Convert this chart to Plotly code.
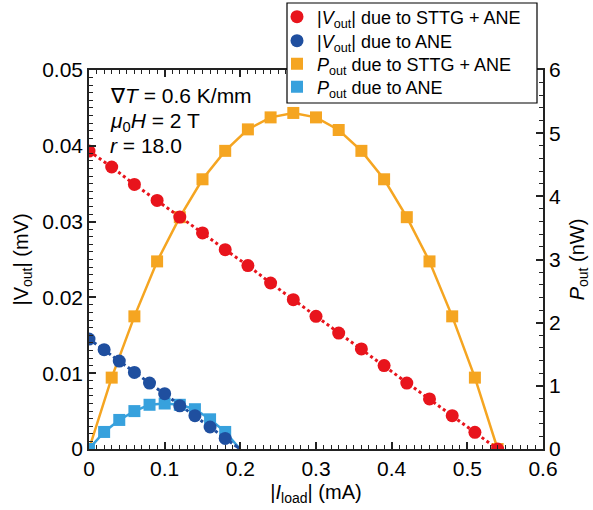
import numpy as np
import plotly.graph_objects as go

# Data
I_sttg = [0.00, 0.03, 0.06, 0.09, 0.12, 0.15, 0.18, 0.21, 0.24, 0.27,
          0.30, 0.33, 0.36, 0.39, 0.42, 0.45, 0.48, 0.51, 0.54]
V_sttg = [0.0393, 0.0372, 0.0349, 0.0328, 0.0306, 0.0285, 0.0263, 0.0242, 0.0219, 0.0197,
          0.0175, 0.0153, 0.0132, 0.0110, 0.0087, 0.0066, 0.0044, 0.0022, 0.0]
P_sttg = [0.0, 1.13, 2.10, 2.97, 3.67, 4.27, 4.72, 5.06, 5.25, 5.32,
          5.25, 5.05, 4.72, 4.27, 3.67, 2.97, 2.10, 1.13, 0.0]

I_ane = [0.00, 0.02, 0.04, 0.06, 0.08, 0.10, 0.12, 0.14, 0.16, 0.18]
V_ane = [0.0145, 0.0131, 0.0116, 0.0101, 0.0087, 0.0073, 0.0057, 0.0044, 0.0029, 0.0014]
P_ane = [0.0, 0.27, 0.46, 0.60, 0.70, 0.72, 0.70, 0.63, 0.47, 0.27]

x_ticks = [0, 0.1, 0.2, 0.3, 0.4, 0.5, 0.6]
x_ticklabels = ["0", "0.1", "0.2", "0.3", "0.4", "0.5", "0.6"]
v_ticks = [0, 0.01, 0.02, 0.03, 0.04, 0.05]
v_ticklabels = ["0", "0.01", "0.02", "0.03", "0.04", "0.05"]
p_ticks = [0, 1, 2, 3, 4, 5, 6]

RED = "#e8141c"
DBLUE = "#1f4f9f"
ORANGE = "#f5a521"
LBLUE = "#37a1dd"
FONT = "Arial, Liberation Sans, sans-serif"

# plot area geometry (pixels)
W, H = 593, 510
L, R, T, B = 89, 50, 70, 61
PH = H - T - B


def py(ypix):
    """pixel row -> paper y"""
    return (H - B - ypix) / PH


def px(xpix):
    return (xpix - L) / (W - L - R)


# linear fit for the ANE voltage (line extended to its zero crossing)
b_a, a_a = np.polyfit(I_ane, V_ane, 1)
x0_ane = -a_a / b_a

fig = go.Figure()

# P traces on primary y (drawn below), placed on the right
fig.add_trace(go.Scatter(
    x=I_sttg, y=P_sttg, mode="lines", yaxis="y",
    line=dict(color=ORANGE, width=2.5), showlegend=False, hoverinfo="skip"))
fig.add_trace(go.Scatter(
    x=I_ane + [x0_ane], y=P_ane + [0.0], mode="lines", yaxis="y",
    line=dict(color=LBLUE, width=2.5), showlegend=False, hoverinfo="skip"))
fig.add_trace(go.Scatter(
    x=I_sttg, y=P_sttg, mode="markers", yaxis="y",
    marker=dict(symbol="square", size=12, color=ORANGE),
    name="<i>P</i><sub>out</sub> due to STTG + ANE", legend="legend3"))
fig.add_trace(go.Scatter(
    x=I_ane, y=P_ane, mode="markers", yaxis="y",
    marker=dict(symbol="square", size=12, color=LBLUE),
    name="<i>P</i><sub>out</sub> due to ANE", legend="legend4"))

# V traces on y2 (drawn above), placed on the left
fig.add_trace(go.Scatter(
    x=I_sttg, y=V_sttg, mode="lines", yaxis="y2",
    line=dict(color=RED, width=3, dash="dot"), showlegend=False, hoverinfo="skip"))
fig.add_trace(go.Scatter(
    x=[0.0, x0_ane], y=[a_a, 0.0], mode="lines", yaxis="y2",
    line=dict(color=DBLUE, width=3, dash="dashdot"),
    showlegend=False, hoverinfo="skip"))
fig.add_trace(go.Scatter(
    x=I_sttg, y=V_sttg, mode="markers", yaxis="y2",
    marker=dict(symbol="circle", size=13, color=RED),
    name="|<i>V</i><sub>out</sub>| due to STTG + ANE", legend="legend"))
fig.add_trace(go.Scatter(
    x=I_ane, y=V_ane, mode="markers", yaxis="y2",
    marker=dict(symbol="circle", size=13, color=DBLUE),
    name="|<i>V</i><sub>out</sub>| due to ANE", legend="legend2"))

axis_common = dict(showgrid=False, zeroline=False, showline=True,
                   linecolor="#222", linewidth=1.5, ticks="inside",
                   tickcolor="#222", tickwidth=1.5, ticklen=7,
                   tickfont=dict(size=21, color="black", family=FONT))
minor_common = dict(ticks="inside", ticklen=4, tickcolor="#222", tickwidth=1)

legend_rows = [17, 41, 64, 87]
legend_x = px(277)


def legend_style(row):
    return dict(x=legend_x, y=py(row), xanchor="left", yanchor="middle",
                bgcolor="rgba(0,0,0,0)", borderwidth=0,
                font=dict(size=18, family=FONT, color="black"))


fig.update_layout(
    width=W, height=H,
    margin=dict(l=L, r=R, t=T, b=B, autoexpand=False),
    paper_bgcolor="white", plot_bgcolor="white",
    font=dict(family=FONT, color="black"),
    xaxis=dict(range=[0, 0.6], mirror="ticks",
               tickvals=x_ticks, ticktext=x_ticklabels,
               minor=dict(dtick=0.01, **minor_common),
               title=dict(text="|<i>I</i><sub>load</sub>| (mA)", font=dict(size=20), standoff=6),
               **axis_common),
    yaxis=dict(range=[0, 6], side="right", tickvals=p_ticks,
               minor=dict(dtick=0.2, **minor_common),
               title=dict(text="<i>P</i><sub>out</sub> (nW)", font=dict(size=20), standoff=10),
               **axis_common),
    yaxis2=dict(range=[0, 0.05], side="left", overlaying="y",
                tickvals=v_ticks, ticktext=v_ticklabels,
                minor=dict(dtick=0.001, **minor_common),
                title=dict(text="|V<sub>out</sub>| (mV)", font=dict(size=20), standoff=8),
                **axis_common),
    legend=legend_style(legend_rows[0]),
    legend2=legend_style(legend_rows[1]),
    legend3=legend_style(legend_rows[2]),
    legend4=legend_style(legend_rows[3]),
    shapes=[dict(type="rect", xref="paper", yref="paper",
                 x0=px(287), x1=px(537), y0=py(103), y1=py(3),
                 fillcolor="white", line=dict(color="black", width=1.2), layer="above")],
    annotations=[
        dict(x=0.042, y=py(95), xref="paper", yref="paper", xanchor="left",
             yanchor="middle", showarrow=False, font=dict(size=21, family=FONT),
             text="∇<i>T</i> = 0.6 K/mm"),
        dict(x=0.042, y=py(122), xref="paper", yref="paper", xanchor="left",
             yanchor="middle", showarrow=False, font=dict(size=21, family=FONT),
             text="<i>μ</i><sub>0</sub><i>H</i> = 2 T"),
        dict(x=0.042, y=py(145), xref="paper", yref="paper", xanchor="left",
             yanchor="middle", showarrow=False, font=dict(size=21, family=FONT),
             text="<i>r</i> = 18.0"),
    ],
)

fig.write_html("out.html")
